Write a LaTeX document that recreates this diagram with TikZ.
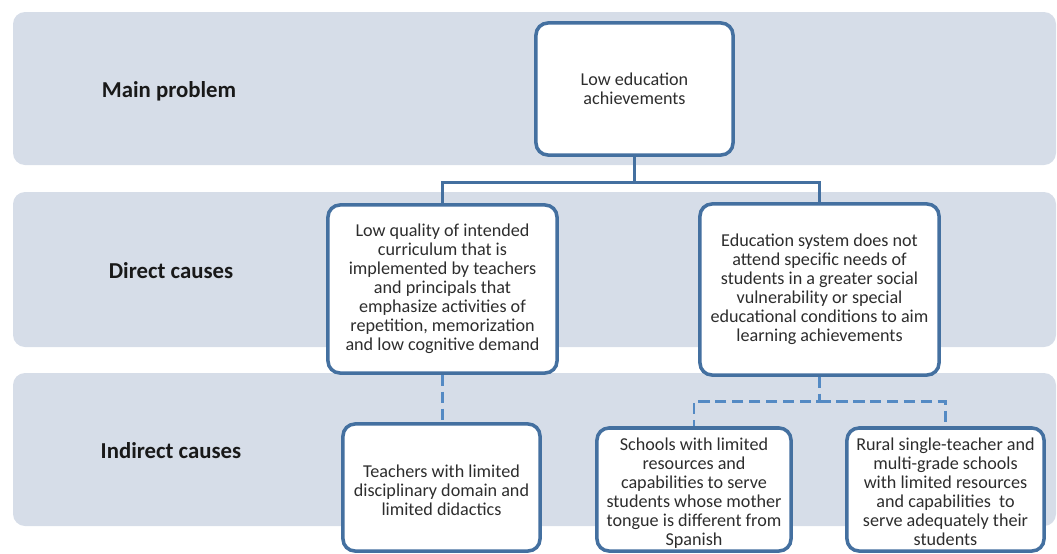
\documentclass[tikz,border=0pt]{standalone}
\usepackage{fontspec}
\setmainfont{Carlito}
\usetikzlibrary{calc}
\definecolor{bandfill}{RGB}{214,221,232}
\definecolor{boxline}{RGB}{68,112,160}
\definecolor{dashline}{RGB}{84,138,196}
\definecolor{boxtext}{RGB}{45,45,45}
\tikzset{%
  band/.style={fill=bandfill, draw=none, rounded corners=0.3cm},
  level label/.style={font=\fontsize{16.2}{18}\selectfont\bfseries, text=black!90},
  cause box/.style={draw=boxline, fill=white, line width=2.5pt, rounded corners=0.3cm,
    align=center, inner sep=0pt, font=\fontsize{12.9}{13.5}\selectfont, text=boxtext},
  solid link/.style={draw=boxline, line width=2.1pt},
  dashed link/.style={draw=dashline, line width=2.1pt, dash pattern=on 8pt off 4pt},
}
% text of the bottom boxes sits a little low
\newcommand{\lowtext}[1]{\raisebox{-3.5pt}[\height][\depth]{\begin{tabular}{@{}c@{}}#1\end{tabular}}}
\begin{document}
\begin{tikzpicture}[x=0.025cm,y=-0.025cm]
  \useasboundingbox (0,0) rectangle (1057,553);
  % one band per level
  \foreach \top/\bot in {12/165, 192/347, 373/526} {
    \path[band] (13,\top) rectangle (1056,\bot);
  }
  % level names
  \node [level label] (mainlbl) at (169,91) {Main problem};
  \node [level label] (directlbl) at (171,271) {Direct causes};
  \node [level label] (indirectlbl) at (171,451) {Indirect causes};
  % main problem
  \node [cause box, minimum width=4.925cm, minimum height=3.3cm] (problem) at (634.5,89)
    {Low education\\achievements};
  % direct causes
  \node [cause box, minimum width=5.725cm, minimum height=4.2cm] (lowq) at (442.5,289)
    {Low quality of intended\\curriculum that is\\implemented by teachers\\and principals that\\emphasize activities of\\repetition, memorization\\and low cognitive demand};
  \node [cause box, minimum width=5.975cm, minimum height=4.275cm] (edsys) at (819.5,289.5)
    {Education system does not\\attend specific needs of\\students in a greater social\\vulnerability or special\\educational conditions to aim\\learning achievements};
  % indirect causes
  \node [cause box, minimum width=4.925cm, minimum height=3.175cm] (teachers) at (441.5,487.5)
    {\lowtext{Teachers with limited\\disciplinary domain and\\limited didactics}};
  \node [cause box, minimum width=4.85cm, minimum height=3.075cm] (schools) at (694,489.5)
    {\lowtext{Schools with limited\\resources and\\capabilities to serve\\students whose mother\\tongue is different from\\Spanish}};
  \node [cause box, minimum width=4.925cm, minimum height=3.075cm] (rural) at (945.5,489.5)
    {\lowtext{Rural single-teacher and\\multi-grade schools\\with limited resources\\and capabilities~ to\\serve adequately their\\students}};
  % connectors
  \coordinate (split) at ($(problem.south)+(0,26)$);
  \coordinate (dsplit) at ($(edsys.south)+(0,25)$);
  \draw [solid link] (problem.south) -- (split) -| (lowq.north);
  \draw [solid link] (split) -| (edsys.north);
  \draw [dashed link] (lowq.south) -- (lowq.south |- teachers.north);
  \draw [dashed link] (edsys.south) -- (dsplit) -| (schools.north);
  \draw [dashed link] (dsplit) -| (rural.north);
\end{tikzpicture}
\end{document}
